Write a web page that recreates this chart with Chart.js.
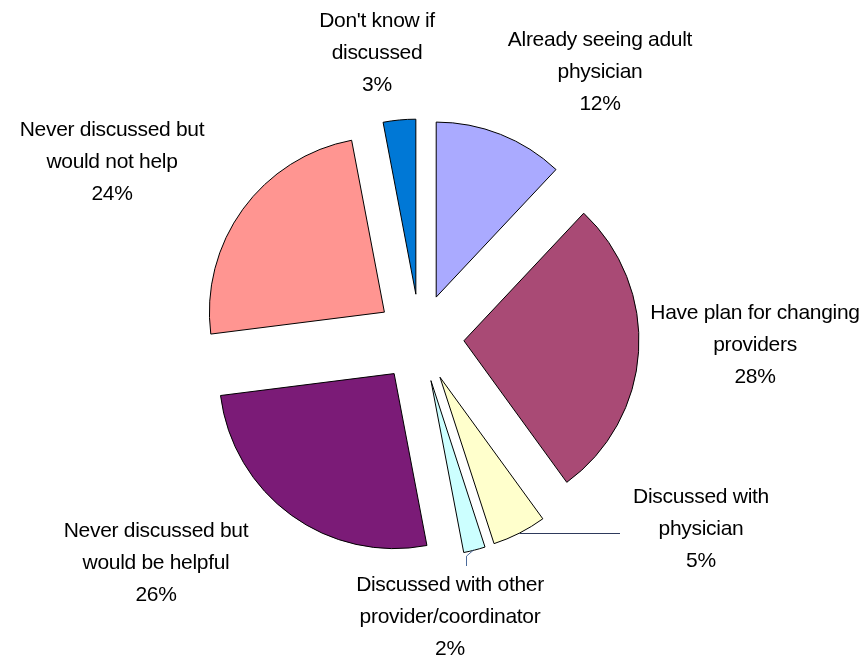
<!DOCTYPE html>
<html>
<head>
<meta charset="utf-8">
<title>Transition to adult care</title>
<script src="https://cdn.jsdelivr.net/npm/chart.js@4.4.1/dist/chart.umd.min.js"></script>
<style>
    html, body { margin: 0; padding: 0; background: #ffffff; }
    #wrap { width: 861px; height: 659px; }
</style>
</head>
<body>
<div id="wrap"><canvas id="pieChart" width="861" height="659"></canvas></div>
<script>
// survey answers, clockwise from 12 o'clock
const categories = [
    ['Already seeing adult', 'physician'],
    ['Have plan for changing', 'providers'],
    ['Discussed with', 'physician'],
    ['Discussed with other', 'provider/coordinator'],
    ['Never discussed but', 'would be helpful'],
    ['Never discussed but', 'would not help'],
    ["Don't know if", 'discussed']
];
const percents = [12, 28, 5, 2, 26, 24, 3];
const sliceColors = ['#AAAAFF', '#A94A75', '#FFFFCC', '#CCFFFF', '#7B1B77', '#FF9591', '#0078D6'];

// where each label block sits (centre x, centre of first line)
const labelAnchors = [
    [600, 40], [755, 313], [701, 497], [450, 585], [156, 531], [112, 130], [377, 21]
];
const LINE_H = 32;
const EXPLODE = 44;   // every slice is pulled out by the same distance

// push each slice away from the centre along its bisector
const explodePlugin = {
    id: 'explode',
    afterDatasetUpdate(chart, args) {
        args.meta.data.forEach(arc => {
            const mid = (arc.startAngle + arc.endAngle) / 2;
            arc.x += Math.cos(mid) * EXPLODE;
            arc.y += Math.sin(mid) * EXPLODE;
        });
    }
};

// outside labels plus the two small leader lines
const labelPlugin = {
    id: 'outsideLabels',
    afterDraw(chart) {
        const ctx = chart.ctx;
        const arcs = chart.getDatasetMeta(0).data;

        function outerMid(i) {
            const a = arcs[i];
            const mid = (a.startAngle + a.endAngle) / 2;
            return [a.x + Math.cos(mid) * a.outerRadius, a.y + Math.sin(mid) * a.outerRadius];
        }

        ctx.save();
        ctx.lineWidth = 1;

        // discussed with physician
        let p = outerMid(2);
        ctx.strokeStyle = '#2E3A5C';
        ctx.beginPath();
        ctx.moveTo(p[0], Math.round(p[1]) + 0.5);
        ctx.lineTo(620, Math.round(p[1]) + 0.5);
        ctx.stroke();

        // discussed with other provider
        p = outerMid(3);
        ctx.strokeStyle = '#4A6A9A';
        ctx.beginPath();
        ctx.moveTo(p[0] - 1, p[1]);
        ctx.lineTo(466.5, p[1] + 6);
        ctx.lineTo(466.5, 566);
        ctx.stroke();

        ctx.fillStyle = '#000000';
        ctx.font = '21px "Liberation Sans", Arial, sans-serif';
        ctx.letterSpacing = '-0.3px';
        ctx.textAlign = 'center';
        ctx.textBaseline = 'middle';
        categories.forEach((lines, i) => {
            const [x, y] = labelAnchors[i];
            const all = lines.concat([percents[i] + '%']);
            all.forEach((t, j) => ctx.fillText(t, x, y + j * LINE_H));
        });
        ctx.restore();
    }
};

function createPieChart() {
    const ctx = document.getElementById('pieChart').getContext('2d');

    new Chart(ctx, {
        type: 'pie',
        data: {
            labels: categories,
            datasets: [{
                data: percents,
                backgroundColor: sliceColors,
                borderColor: '#000000',
                borderWidth: 1,
                borderJoinStyle: 'miter',
                hoverOffset: 0
            }]
        },
        options: {
            responsive: false,
            animation: false,
            radius: 175,
            layout: { padding: { left: 0, right: 21, top: 17, bottom: 0 } },
            plugins: {
                legend: { display: false },
                tooltip: { enabled: true }
            }
        },
        plugins: [explodePlugin, labelPlugin]
    });
}

createPieChart();
</script>
</body>
</html>
